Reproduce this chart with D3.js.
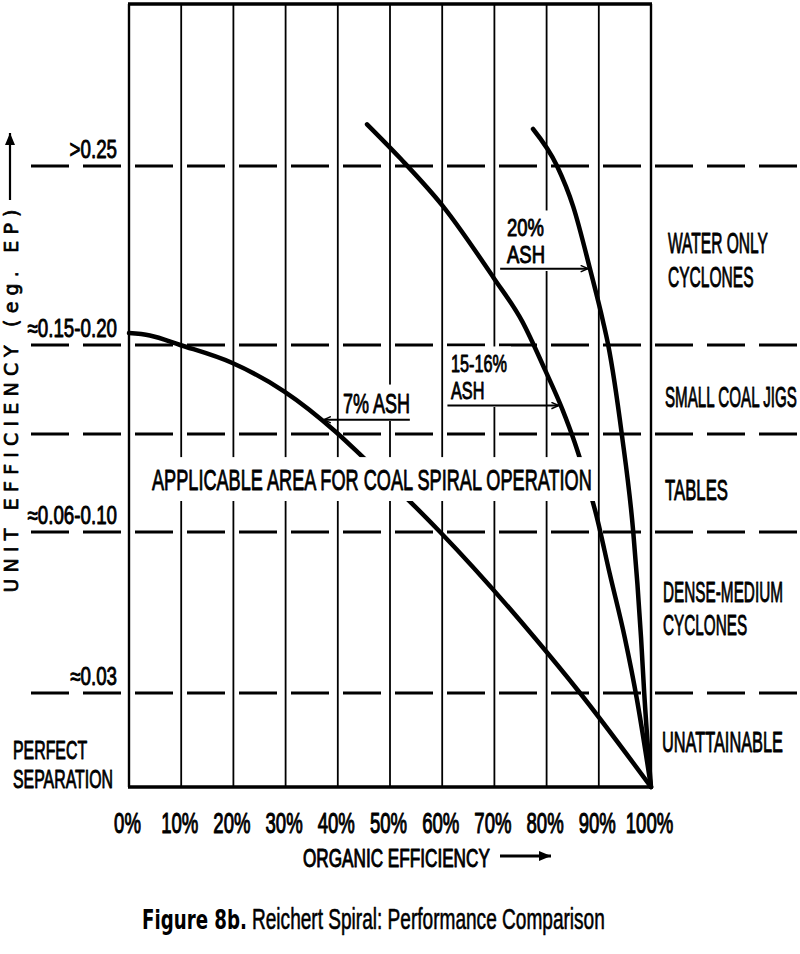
<!DOCTYPE html>
<html><head><meta charset="utf-8">
<script src="https://cdn.jsdelivr.net/npm/d3@7"></script>
<style>
html,body{margin:0;padding:0;background:#fff;}
svg{display:block;}
</style></head><body>
<svg id="chart" width="800" height="954"></svg>
<script>
// ---------------- DATA ----------------
const xTickValues = [0,10,20,30,40,50,60,70,80,90,100];
const xTickLabels = ["0%","10%","20%","30%","40%","50%","60%","70%","80%","90%","100%"];
const yLevelValues = [0.25, 0.175, 0.125, 0.08, 0.03];
const yLevelLabels = [">0.25", "≈0.15-0.20", "", "≈0.06-0.10", "≈0.03"];
const yTopValue = 0.32;

// organic efficiency (%) , unit efficiency (Ep)
const ash7 = [[0,0.180],[4,0.179],[9.8,0.175],[19.7,0.165],[29.7,0.149],[39.7,0.126],[45.4,0.113],
  [53.4,0.095],[59.6,0.080],[77.8,0.047],[86.4,0.030],[100,0]];
const ash15 = [[45.6,0.268],[52.1,0.253],[60.2,0.233],[69.9,0.203],[75.3,0.185],[79.7,0.161],
  [83.0,0.139],[85.4,0.121],[87.5,0.105],[89.5,0.088],[92.1,0.067],[95.0,0.047],[97.3,0.028],[100,0]];
const ash20 = [[77.4,0.266],[82.0,0.250],[85.1,0.233],[88.3,0.207],[90.8,0.185],[91.8,0.175],
  [94.4,0.125],[96.6,0.080],[98.1,0.047],[98.7,0.030],[100,0]];

// annotation arrows in data coords: [from, to]
const arrow20 = [[71.1,0.207],[87.9,0.207]];
const arrow15 = [[61.0,0.141],[82.3,0.141]];
const arrow7  = [[53.8,0.133],[37.3,0.133]];

const rightLabels = [["WATER ONLY","CYCLONES"],["SMALL COAL JIGS"],["TABLES"],["DENSE-MEDIUM","CYCLONES"],["UNATTAINABLE"]];
const plotLabels = [["20%","ASH"],["15-16%","ASH"],["7% ASH"],["APPLICABLE AREA FOR COAL SPIRAL OPERATION"]];
const sideLabels = [["PERFECT","SEPARATION"]];
const yTitle = "UNIT EFFICIENCY (eg. EP)";
const xTitle = "ORGANIC EFFICIENCY";
const titleBold = "Figure 8b.";
const titleRest = "Reichert Spiral: Performance Comparison";

// ---------------- LAYOUT ----------------
const FONT = "'Liberation Sans', Arial, sans-serif";
const rightLayout = [
  {x:668,y:253,lh:34,w:100,fs:29},{x:665,y:407,w:132,fs:29},{x:665,y:500,w:63,fs:29},
  {x:663,y:602,lh:33,w:120,fs:29},{x:662,y:752,w:121,fs:29}];
const plotLayout = [
  {x:507,y:236,lh:27,w:38,fs:24,bg:true},
  {x:451,y:372,lh:27,w:56,fs:24,bg:true},
  {x:343,y:413,w:67,fs:28,bg:true},
  {x:152,y:490,w:440,fs:30,bg:true,py:11}];
const sideLayout = [{x:13,y:759,lh:29,w:100,fs:25}];

const svg = d3.select("#chart");
const x = d3.scaleLinear().domain([0,100]).range([129,651]);
const y = d3.scaleLinear().domain([0,0.03,0.08,0.125,0.175,0.25,yTopValue])
  .range([787,693,532,434,345,166,4]);

const defs = svg.append("defs");
defs.append("marker").attr("id","headFill").attr("viewBox","0 0 12 10")
  .attr("refX",12).attr("refY",5).attr("markerWidth",14).attr("markerHeight",10)
  .attr("markerUnits","userSpaceOnUse").attr("orient","auto")
  .append("path").attr("d","M0,0 L12,5 L0,10 Z").attr("fill","#000");
defs.append("marker").attr("id","headOpen").attr("viewBox","0 0 10 10")
  .attr("refX",9).attr("refY",5).attr("markerWidth",9).attr("markerHeight",8)
  .attr("markerUnits","userSpaceOnUse").attr("orient","auto")
  .append("path").attr("d","M0,1 L9,5 L0,9").attr("fill","none").attr("stroke","#000").attr("stroke-width",1.8);

const gGrid = svg.append("g");
const gLevels = svg.append("g");
const gCurves = svg.append("g");
const gBoxes = svg.append("g");
const gArrows = svg.append("g");
const gText = svg.append("g").attr("font-family",FONT).attr("fill","#000");

// grid verticals
gGrid.selectAll("line").data(xTickValues).join("line")
  .attr("x1",d=>x(d)).attr("x2",d=>x(d)).attr("y1",y(yTopValue)).attr("y2",y(0))
  .attr("stroke","#000").attr("stroke-width",d=>(d===0||d===100)?2.4:1.8);
// frame top/bottom
gGrid.selectAll("line.h").data([yTopValue,0]).join("line").attr("class","h")
  .attr("x1",x(0)-1).attr("x2",x(100)+1).attr("y1",d=>y(d)).attr("y2",d=>y(d))
  .attr("stroke","#000").attr("stroke-width",3.5);

// dashed level lines
gLevels.selectAll("line").data(yLevelValues).join("line")
  .attr("x1",31).attr("x2",800).attr("y1",d=>y(d)).attr("y2",d=>y(d))
  .attr("stroke","#000").attr("stroke-width",3).attr("stroke-dasharray","38 14");

// curves
const line = d3.line().x(d=>x(d[0])).y(d=>y(d[1])).curve(d3.curveMonotoneX);
gCurves.selectAll("path").data([ash7,ash15,ash20]).join("path")
  .attr("d",line).attr("fill","none").attr("stroke","#000").attr("stroke-width",4.5)
  .attr("stroke-linecap","round");

// arrows
gArrows.selectAll("line").data([arrow20,arrow15,arrow7]).join("line")
  .attr("x1",d=>x(d[0][0])).attr("y1",d=>y(d[0][1])).attr("x2",d=>x(d[1][0])).attr("y2",d=>y(d[1][1]))
  .attr("stroke","#000").attr("stroke-width",2).attr("marker-end","url(#headOpen)");

function ink(sel, w){
  sel.attr("stroke","#000").attr("stroke-width",w).attr("vector-effect","non-scaling-stroke")
     .attr("stroke-linejoin","round");
}
// condense a (possibly multi-line) text horizontally to a target width with a scale transform
function condense(sel, target){
  sel.each(function(d,i){
    const t = d3.select(this);
    const spans = t.selectAll("tspan").nodes();
    const L = spans.length ? d3.max(spans, s=>s.getComputedTextLength()) : this.getComputedTextLength();
    if (!(L>0)) return;
    const w = (typeof target === "function") ? target.call(this,L,d,i) : target;
    const X = +t.attr("x") || 0, Y = +t.attr("y") || 0;
    t.attr("x",0).attr("y",0).attr("transform",`translate(${X},${Y}) scale(${w/L},1)`);
  });
}
function multiline(sel, layout){
  sel.each(function(d,i){
    const t = d3.select(this), L = layout[i];
    t.attr("x",L.x).attr("y",L.y).attr("font-size",L.fs);
    t.selectAll("tspan").data(d).join("tspan").attr("x",0)
      .attr("dy",(s,k)=>k===0?0:(L.lh||0)).text(s=>s);
  });
  condense(sel,(Lw,d,i)=>layout[i].w);
}

// axes (tick labels only)
const xAxisG = svg.append("g").attr("transform",`translate(-2,${y(0)})`)
  .call(d3.axisBottom(x).tickValues(xTickValues).tickFormat((d,i)=>xTickLabels[i]).tickSize(0).tickPadding(0));
xAxisG.select(".domain").remove();
xAxisG.attr("font-family",FONT).attr("font-size",29);
xAxisG.selectAll("text").attr("dy",0).attr("y",46).attr("fill","#000").call(ink,0.9);
condense(xAxisG.selectAll("text"), L=>L*0.64);

const yAxisG = svg.append("g").attr("transform","translate(117,0)")
  .call(d3.axisLeft(y).tickValues(yLevelValues).tickFormat((d,i)=>yLevelLabels[i]).tickSize(0).tickPadding(0));
yAxisG.select(".domain").remove();
yAxisG.attr("font-family",FONT).attr("font-size",25);
yAxisG.selectAll("text").attr("dy",0).attr("y",-9).attr("fill","#000").call(ink,0.8);
condense(yAxisG.selectAll("text"), L=>L*0.75);

// right-side labels
gText.selectAll("text.r").data(rightLabels).join("text").attr("class","r")
  .call(ink,0.9).call(multiline,rightLayout);

// in-plot labels
const pl = gText.selectAll("text.p").data(plotLabels).join("text").attr("class","p")
  .call(ink,0.9).call(multiline,plotLayout);

// side labels
gText.selectAll("text.s").data(sideLabels).join("text").attr("class","s")
  .call(ink,0.9).call(multiline,sideLayout);

// white boxes behind in-plot labels
const boxes = [];
pl.each(function(d,i){
  const b = this.getBoundingClientRect(), L = plotLayout[i];
  if (!L.bg) return;
  const py = L.py || 8;
  const y0 = L.y - L.fs*0.73 - py, y1 = L.y + (L.lh||0)*(d.length-1) + py;
  boxes.push({x0:b.left-4, x1:b.right+4, y0, y1});
});
gBoxes.selectAll("rect").data(boxes).join("rect")
  .attr("x",d=>d.x0).attr("y",d=>d.y0).attr("width",d=>d.x1-d.x0).attr("height",d=>d.y1-d.y0)
  .attr("fill","#fff");

// y title + arrow
const yt = gText.append("text").attr("transform","translate(18,401) rotate(-90)")
  .attr("text-anchor","middle").attr("font-size",19).attr("font-family","'DejaVu Sans', sans-serif")
  .call(ink,0.7).text(yTitle);
yt.attr("textLength",383).attr("lengthAdjust","spacing");
svg.append("line").attr("x1",10).attr("x2",10).attr("y1",200).attr("y2",133)
  .attr("stroke","#000").attr("stroke-width",2.2).attr("marker-end","url(#headFill)");

// x title + arrow
const xt = gText.append("text").attr("x",303).attr("y",867).attr("font-size",26)
  .call(ink,0.9).text(xTitle);
condense(xt,187);
svg.append("line").attr("x1",500).attr("x2",551).attr("y1",856).attr("y2",856)
  .attr("stroke","#000").attr("stroke-width",3).attr("marker-end","url(#headFill)");

// figure caption
const t1 = gText.append("text").attr("x",142).attr("y",929).attr("font-size",26)
  .attr("font-family","'DejaVu Sans', sans-serif").attr("font-weight","bold").text(titleBold);
condense(t1,105);
const t2 = gText.append("text").attr("x",252).attr("y",929).attr("font-size",29)
  .call(ink,0.5).text(titleRest);
condense(t2,353);
</script>
</body></html>
